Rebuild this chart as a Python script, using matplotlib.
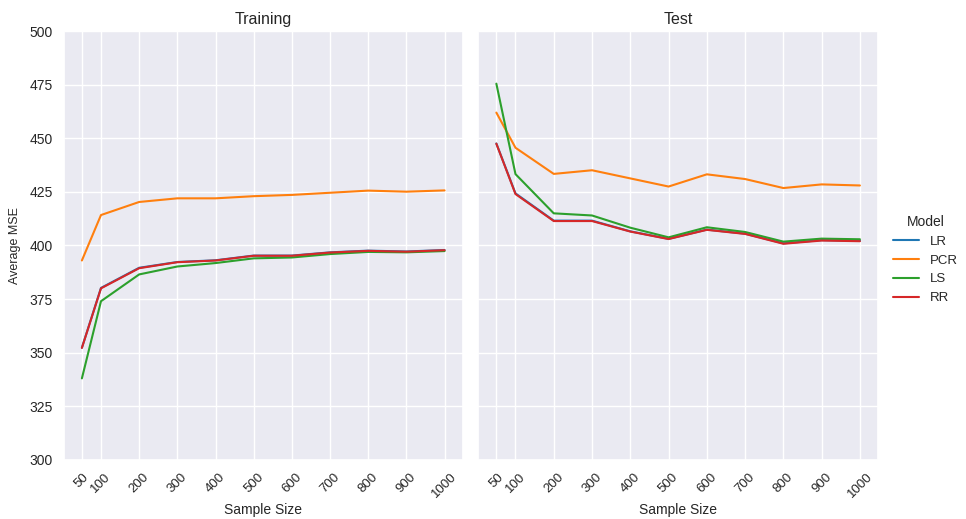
import numpy as np
import matplotlib
matplotlib.use("Agg")
import matplotlib.pyplot as plt
import seaborn as sns

sample_sizes = [50, 100, 200, 300, 400, 500, 600, 700, 800, 900, 1000]
models = ["LR", "PCR", "LS", "RR"]

train_lr = [352.3, 380.2, 389.6, 392.3, 393.1, 395.3, 395.3, 396.8, 397.6, 397.2, 397.9]
train_pcr = [393.0, 414.2, 420.3, 422.0, 422.0, 423.0, 423.6, 424.6, 425.6, 425.1, 425.7]
train_ls = [338.0, 374.0, 386.5, 390.2, 391.8, 394.0, 394.4, 396.0, 397.0, 396.8, 397.4]
train_rr = [352.2, 380.0, 389.4, 392.2, 393.0, 395.2, 395.2, 396.7, 397.5, 397.1, 397.8]

test_lr = [447.6, 424.3, 411.6, 411.6, 406.6, 403.1, 407.4, 405.5, 401.0, 402.5, 402.2]
test_pcr = [462.0, 445.6, 433.4, 435.1, 431.3, 427.5, 433.2, 431.0, 426.8, 428.5, 428.0]
test_ls = [475.5, 433.3, 415.0, 414.0, 408.3, 403.8, 408.5, 406.3, 401.8, 403.2, 402.9]
test_rr = [447.5, 424.0, 411.4, 411.4, 406.5, 403.0, 407.3, 405.4, 400.8, 402.3, 402.0]

train = {"LR": train_lr, "PCR": train_pcr, "LS": train_ls, "RR": train_rr}
test = {"LR": test_lr, "PCR": test_pcr, "LS": test_ls, "RR": test_rr}

sns.set_theme(style="darkgrid")
plt.rcParams["font.family"] = ["Liberation Sans", "DejaVu Sans"]

colors = sns.color_palette("tab10", 4)

fig = plt.figure(figsize=(9.66, 5.19), dpi=100)
ax1 = fig.add_axes([0.066, 0.114, 0.413, 0.826])
ax2 = fig.add_axes([0.495, 0.114, 0.414, 0.826], sharey=ax1)

lines = []
for ax, data, title in [(ax1, train, "Training"), (ax2, test, "Test")]:
    for m, c in zip(models, colors):
        l, = ax.plot(sample_sizes, data[m], color=c, lw=1.5, label=m)
        if ax is ax1:
            lines.append(l)
    ax.set_title(title, fontsize=11.5, pad=5)
    ax.set_xticks(sample_sizes)
    ax.set_xticklabels([str(s) for s in sample_sizes], rotation=45, fontsize=9.5)
    ax.tick_params(axis="y", labelsize=10, pad=2)
    ax.tick_params(axis="x", pad=2)
    ax.set_xlabel("Sample Size", fontsize=10, labelpad=2)
    ax.set_ylim(300, 500)
    ax.set_yticks(np.arange(300, 501, 25))

ax1.set_ylabel("Average MSE", fontsize=9, labelpad=6)
plt.setp(ax2.get_yticklabels(), visible=False)
ax2.tick_params(axis="y", length=0)

fig.legend(lines, models, title="Model", loc="center left", bbox_to_anchor=(0.912, 0.5),
           frameon=False, fontsize=9.5, title_fontsize=10)

fig.savefig("out.png", dpi=100)
